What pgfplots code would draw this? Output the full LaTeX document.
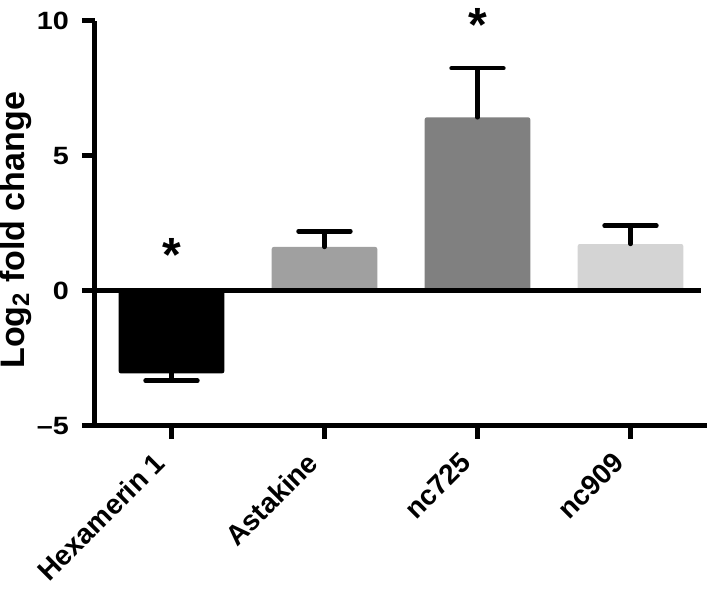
\documentclass[border=0pt]{standalone}
\usepackage{pgfplots}
\pgfplotsset{compat=1.18}
\usepackage{fontspec}
\setmainfont{Liberation Sans}
\newfontfamily\tickfont[FakeStretch=1.15]{Liberation Sans}

\definecolor{barA}{HTML}{000000}
\definecolor{barB}{HTML}{A0A0A0}
\definecolor{barC}{HTML}{808080}
\definecolor{barD}{HTML}{D4D4D4}

\begin{document}
\begin{tikzpicture}
% page = reference frame around the axis box (axis south west sits at the origin)
\useasboundingbox (-47.5pt,-83pt) rectangle (307pt,213pt);
\begin{axis}[
    at={(0,0)}, anchor=south west,
    scale only axis,
    width=306pt, height=202.5pt,
    xmin=-0.5, xmax=3.5,
    ymin=-5, ymax=10,
    axis lines=left,
    axis line style={-, line width=2.5pt},
    xtick={0,1,2,3},
    xticklabels={Hexamerin 1, Astakine, nc725, nc909},
    ytick={-5,0,5,10},
    yticklabels={–5,0,5,10},
    tick align=outside,
    major tick length=6.5pt,
    tick style={line width=2.5pt, black},
    yticklabel style={font=\tickfont\fontsize{12.5}{14}\selectfont\bfseries, xshift=-3pt},
    xticklabel style={font=\fontsize{14}{16}\selectfont\bfseries, inner sep=0pt,
        xshift=-9.5pt, yshift=-5.6pt, rotate=45, anchor=north east},
    ylabel={Log\textsubscript{2} fold change},
    ylabel style={font=\fontsize{17}{18}\selectfont\bfseries, at={(ticklabel cs:0.483)}},
    ylabel shift=-4pt,
    ybar, bar width=0.69, bar shift=0pt,
    clip=false,
    error bars/y dir=both,
    error bars/y explicit,
    error bars/error bar style={line width=2.2pt, black, line cap=round},
    error bars/error mark options={rotate=90, mark size=13pt, line width=2.2pt, black, line cap=round},
]

% Hexamerin 1 (error bar downward)
\addplot[fill=barA, draw=none, rounded corners=1pt, error bars/y dir=minus]
    coordinates {(0,-3.05) -= (0,0.27)};
% Astakine
\addplot[fill=barB, draw=none, rounded corners=1pt, error bars/y dir=plus]
    coordinates {(1,1.63) += (0,0.58)};
% nc725
\addplot[fill=barC, draw=none, rounded corners=1pt, error bars/y dir=plus]
    coordinates {(2,6.43) += (0,1.82)};
% nc909
\addplot[fill=barD, draw=none, rounded corners=1pt, error bars/y dir=plus]
    coordinates {(3,1.74) += (0,0.68)};

% zero line
\draw[line width=2.5pt] (axis cs:-0.5,0) -- (axis cs:3.46,0);

% significance marks
\node[font=\fontsize{24}{24}\selectfont\bfseries] at (axis cs:0,1.35) {*};
\node[font=\fontsize{24}{24}\selectfont\bfseries] at (axis cs:2,9.85) {*};
\end{axis}
\end{tikzpicture}
\end{document}
